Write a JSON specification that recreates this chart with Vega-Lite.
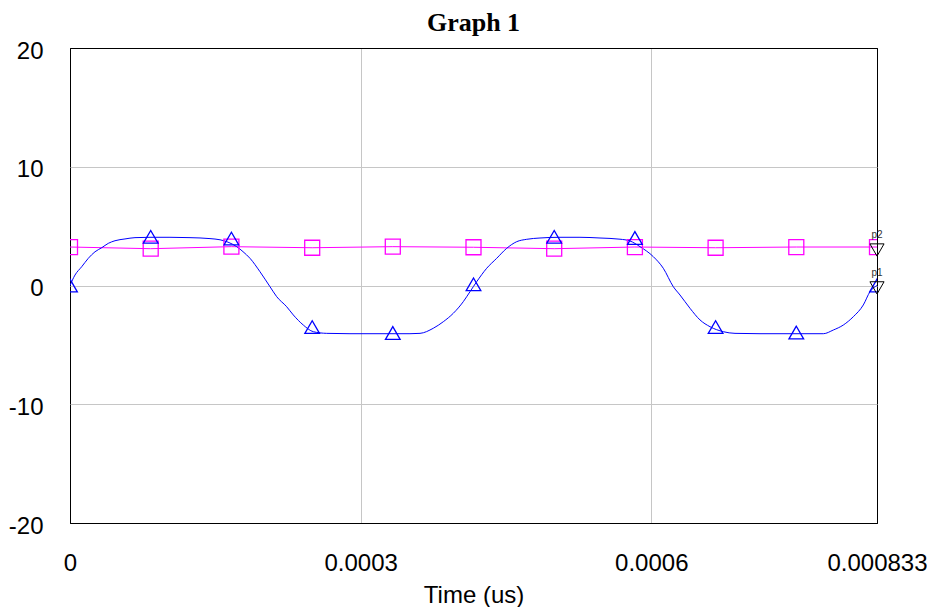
{
  "$schema": "https://vega.github.io/schema/vega-lite/v6.json",
  "width": 807,
  "height": 475,
  "autosize": {"type": "none"},
  "padding": {"left": 70, "top": 48, "right": 50, "bottom": 84},
  "background": "white",
  "title": {"text": "Graph 1", "font": "Liberation Serif", "fontSize": 26, "fontWeight": "bold", "color": "black", "anchor": "middle", "baseline": "alphabetic", "offset": 15, "dy": 33},
  "config": {"view": {"stroke": "black", "strokeWidth": 1}},
  "datasets": {
    "blue": [
      {"t": 0, "v": 0}, {"t": 0.00000516, "v": 0.88}, {"t": 0.00001208, "v": 1.58}, {"t": 0.00001889, "v": 2.29},
      {"t": 0.00002581, "v": 2.84}, {"t": 0.00003272, "v": 3.18}, {"t": 0.00003953, "v": 3.55}, {"t": 0.00004645, "v": 3.77},
      {"t": 0.00005677, "v": 3.92}, {"t": 0.00006709, "v": 4.03}, {"t": 0.00008258, "v": 4.06}, {"t": 0.00010322, "v": 4.06},
      {"t": 0.00012387, "v": 4.03}, {"t": 0.00014451, "v": 3.95}, {"t": 0.00015483, "v": 3.85}, {"t": 0.0001631, "v": 3.65},
      {"t": 0.00017207, "v": 3.27}, {"t": 0.00017857, "v": 2.85}, {"t": 0.0001858, "v": 2.29}, {"t": 0.00019612, "v": 1.16},
      {"t": 0.00020644, "v": -0.1}, {"t": 0.00021336, "v": -0.94}, {"t": 0.00022368, "v": -1.79}, {"t": 0.0002305, "v": -2.48},
      {"t": 0.00024082, "v": -3.33}, {"t": 0.00025114, "v": -3.89}, {"t": 0.00026497, "v": -4.03}, {"t": 0.00028902, "v": -4.06},
      {"t": 0.00031999, "v": -4.06}, {"t": 0.00035095, "v": -4.06}, {"t": 0.00036128, "v": -4.03}, {"t": 0.00037501, "v": -3.6},
      {"t": 0.00038533, "v": -3.05}, {"t": 0.00039565, "v": -2.34}, {"t": 0.00040597, "v": -1.36}, {"t": 0.00041289, "v": -0.52},
      {"t": 0.0004198, "v": 0.32}, {"t": 0.00043012, "v": 1.45}, {"t": 0.00044045, "v": 2.29}, {"t": 0.00045077, "v": 3.13},
      {"t": 0.00046109, "v": 3.69}, {"t": 0.00047141, "v": 3.89}, {"t": 0.00048514, "v": 4.0}, {"t": 0.00050579, "v": 4.06},
      {"t": 0.00052643, "v": 4.06}, {"t": 0.00054708, "v": 4.0}, {"t": 0.00056772, "v": 3.9}, {"t": 0.00057804, "v": 3.75},
      {"t": 0.00058837, "v": 3.27}, {"t": 0.00060209, "v": 2.43}, {"t": 0.00061242, "v": 1.45}, {"t": 0.00062274, "v": -0.1},
      {"t": 0.00062966, "v": -0.8}, {"t": 0.00063998, "v": -1.92}, {"t": 0.0006503, "v": -2.9}, {"t": 0.00066062, "v": -3.47},
      {"t": 0.00067435, "v": -3.89}, {"t": 0.00068643, "v": -4.03}, {"t": 0.00071223, "v": -4.06}, {"t": 0.0007432, "v": -4.06},
      {"t": 0.00077757, "v": -4.06}, {"t": 0.0007879, "v": -3.75}, {"t": 0.00079822, "v": -3.33}, {"t": 0.00080854, "v": -2.63},
      {"t": 0.00081886, "v": -1.64}, {"t": 0.00082578, "v": -0.52}, {"t": 0.000833, "v": 0}
    ],
    "pink": [
      {"t": 0, "v": 3.24}, {"t": 0.0000833, "v": 3.1}, {"t": 0.0001666, "v": 3.27}, {"t": 0.00025, "v": 3.18},
      {"t": 0.0003332, "v": 3.27}, {"t": 0.0004165, "v": 3.22}, {"t": 0.0004998, "v": 3.1}, {"t": 0.0005831, "v": 3.24},
      {"t": 0.0006664, "v": 3.18}, {"t": 0.0007497, "v": 3.24}, {"t": 0.000833, "v": 3.24}
    ],
    "tri": [
      {"t": 0, "v": 0}, {"t": 0.0000833, "v": 4.1}, {"t": 0.0001666, "v": 3.95}, {"t": 0.00025, "v": -3.5},
      {"t": 0.0003332, "v": -4.0}, {"t": 0.0004165, "v": 0.1}, {"t": 0.0004998, "v": 4.1}, {"t": 0.0005831, "v": 4.0},
      {"t": 0.0006664, "v": -3.5}, {"t": 0.0007497, "v": -3.96}, {"t": 0.000833, "v": 0}
    ],
    "ends": [
      {"t": 0.000833, "v": 2.99, "label": "p2"},
      {"t": 0.000833, "v": -0.2, "label": "p1"}
    ]
  },
  "encoding": {
    "x": {
      "field": "t", "type": "quantitative",
      "scale": {"domain": [0, 0.000833], "nice": false, "zero": false},
      "axis": {
        "title": "Time (us)", "values": [0, 0.0003, 0.0006, 0.000833], "format": ".6~f",
        "labelFont": "Liberation Sans", "labelFontSize": 24, "labelColor": "black",
        "labelPadding": 47, "labelBaseline": "alphabetic", "labelFlush": false, "labelOverlap": false,
        "ticks": false, "tickSize": 0, "domain": false, "grid": true,
        "gridColor": {"condition": {"test": "datum.value <= 0 || datum.value >= 0.00083", "value": "black"}, "value": "#c6c6c6"},
        "titleFont": "Liberation Sans", "titleFontSize": 24, "titleFontWeight": "normal", "titleColor": "black",
        "titleBaseline": "alphabetic", "titleY": 79
      }
    },
    "y": {
      "field": "v", "type": "quantitative",
      "scale": {"domain": [-20, 20], "nice": false, "zero": false},
      "axis": {
        "title": null, "values": [-20, -10, 0, 10, 20], "labelExpr": "'' + datum.value",
        "labelFont": "Liberation Sans", "labelFontSize": 24, "labelColor": "black",
        "labelPadding": 27, "labelBaseline": "middle", "labelOffset": 3, "labelFlush": false, "labelOverlap": false,
        "ticks": false, "tickSize": 0, "domain": false, "grid": true,
        "gridColor": {"condition": {"test": "abs(datum.value) >= 20", "value": "black"}, "value": "#c6c6c6"}
      }
    }
  },
  "layer": [
    {"data": {"name": "pink"}, "mark": {"type": "line", "color": "#ff00ff", "strokeWidth": 1, "clip": true}},
    {"data": {"name": "blue"}, "mark": {"type": "line", "color": "#0000ff", "strokeWidth": 1, "interpolate": "monotone", "clip": true}},
    {"data": {"name": "pink"}, "mark": {"type": "point", "shape": "square", "filled": false, "size": 225, "color": "#ff00ff", "strokeWidth": 1.3, "opacity": 1, "clip": true}},
    {"data": {"name": "tri"}, "mark": {"type": "point", "shape": "triangle-up", "filled": false, "size": 215, "color": "#0000ff", "strokeWidth": 1.3, "opacity": 1, "clip": true}},
    {"data": {"name": "ends"}, "mark": {"type": "point", "shape": "triangle-down", "filled": false, "size": 200, "color": "black", "strokeWidth": 1, "opacity": 1}},
    {"data": {"name": "ends"}, "mark": {"type": "text", "fontSize": 10, "font": "Liberation Sans", "color": "#333333", "dy": -12, "baseline": "alphabetic", "align": "center"}, "encoding": {"text": {"field": "label"}}}
  ]
}
